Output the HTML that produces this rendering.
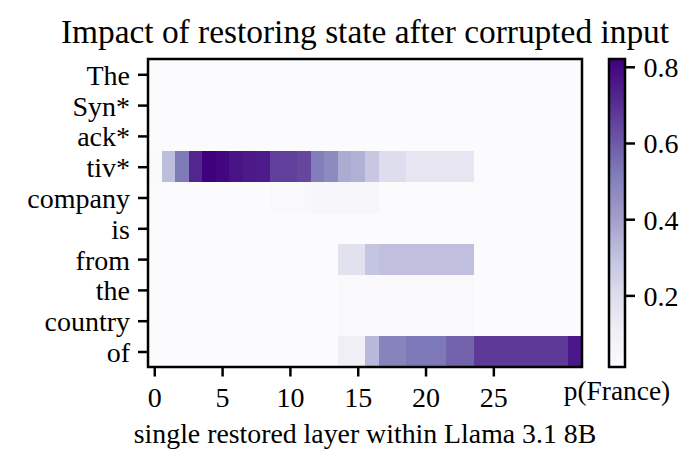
<!DOCTYPE html>
<html><head><meta charset="utf-8"><style>
html,body{margin:0;padding:0;background:#fff;width:699px;height:470px;overflow:hidden}
svg{display:block}
.t{font-family:"Liberation Serif",serif;font-size:28px;fill:#000}
.ti{font-family:"Liberation Serif",serif;font-size:33.4px;fill:#000}
.tp{font-family:"Liberation Serif",serif;font-size:27.4px;fill:#000}
</style></head><body>
<svg width="699" height="470" viewBox="0 0 699 470" shape-rendering="crispEdges"><rect width="699" height="470" fill="#fff"/><rect x="148.00" y="59.00" width="13.86" height="31.10" fill="#fbfafc"/><rect x="161.56" y="59.00" width="13.86" height="31.10" fill="#fbfafc"/><rect x="175.12" y="59.00" width="13.86" height="31.10" fill="#fbfafc"/><rect x="188.69" y="59.00" width="13.86" height="31.10" fill="#fbfafc"/><rect x="202.25" y="59.00" width="13.86" height="31.10" fill="#fbfafc"/><rect x="215.81" y="59.00" width="13.86" height="31.10" fill="#fbfafc"/><rect x="229.38" y="59.00" width="13.86" height="31.10" fill="#fbfafc"/><rect x="242.94" y="59.00" width="13.86" height="31.10" fill="#fbfafc"/><rect x="256.50" y="59.00" width="13.86" height="31.10" fill="#fbfafc"/><rect x="270.06" y="59.00" width="13.86" height="31.10" fill="#fbfafc"/><rect x="283.62" y="59.00" width="13.86" height="31.10" fill="#fbfafc"/><rect x="297.19" y="59.00" width="13.86" height="31.10" fill="#fbfafc"/><rect x="310.75" y="59.00" width="13.86" height="31.10" fill="#fbfafc"/><rect x="324.31" y="59.00" width="13.86" height="31.10" fill="#fbfafc"/><rect x="337.88" y="59.00" width="13.86" height="31.10" fill="#fbfafc"/><rect x="351.44" y="59.00" width="13.86" height="31.10" fill="#fbfafc"/><rect x="365.00" y="59.00" width="13.86" height="31.10" fill="#fbfafc"/><rect x="378.56" y="59.00" width="13.86" height="31.10" fill="#fbfafc"/><rect x="392.12" y="59.00" width="13.86" height="31.10" fill="#fbfafc"/><rect x="405.69" y="59.00" width="13.86" height="31.10" fill="#fbfafc"/><rect x="419.25" y="59.00" width="13.86" height="31.10" fill="#fbfafc"/><rect x="432.81" y="59.00" width="13.86" height="31.10" fill="#fbfafc"/><rect x="446.38" y="59.00" width="13.86" height="31.10" fill="#fbfafc"/><rect x="459.94" y="59.00" width="13.86" height="31.10" fill="#fbfafc"/><rect x="473.50" y="59.00" width="13.86" height="31.10" fill="#fbfafc"/><rect x="487.06" y="59.00" width="13.86" height="31.10" fill="#fbfafc"/><rect x="500.62" y="59.00" width="13.86" height="31.10" fill="#fbfafc"/><rect x="514.19" y="59.00" width="13.86" height="31.10" fill="#fbfafc"/><rect x="527.75" y="59.00" width="13.86" height="31.10" fill="#fbfafc"/><rect x="541.31" y="59.00" width="13.86" height="31.10" fill="#fbfafc"/><rect x="554.88" y="59.00" width="13.86" height="31.10" fill="#fbfafc"/><rect x="568.44" y="59.00" width="13.86" height="31.10" fill="#fbfafc"/><rect x="148.00" y="89.80" width="13.86" height="31.10" fill="#fbfafc"/><rect x="161.56" y="89.80" width="13.86" height="31.10" fill="#fbfafc"/><rect x="175.12" y="89.80" width="13.86" height="31.10" fill="#fbfafc"/><rect x="188.69" y="89.80" width="13.86" height="31.10" fill="#fbfafc"/><rect x="202.25" y="89.80" width="13.86" height="31.10" fill="#fbfafc"/><rect x="215.81" y="89.80" width="13.86" height="31.10" fill="#fbfafc"/><rect x="229.38" y="89.80" width="13.86" height="31.10" fill="#fbfafc"/><rect x="242.94" y="89.80" width="13.86" height="31.10" fill="#fbfafc"/><rect x="256.50" y="89.80" width="13.86" height="31.10" fill="#fbfafc"/><rect x="270.06" y="89.80" width="13.86" height="31.10" fill="#fbfafc"/><rect x="283.62" y="89.80" width="13.86" height="31.10" fill="#fbfafc"/><rect x="297.19" y="89.80" width="13.86" height="31.10" fill="#fbfafc"/><rect x="310.75" y="89.80" width="13.86" height="31.10" fill="#fbfafc"/><rect x="324.31" y="89.80" width="13.86" height="31.10" fill="#fbfafc"/><rect x="337.88" y="89.80" width="13.86" height="31.10" fill="#fbfafc"/><rect x="351.44" y="89.80" width="13.86" height="31.10" fill="#fbfafc"/><rect x="365.00" y="89.80" width="13.86" height="31.10" fill="#fbfafc"/><rect x="378.56" y="89.80" width="13.86" height="31.10" fill="#fbfafc"/><rect x="392.12" y="89.80" width="13.86" height="31.10" fill="#fbfafc"/><rect x="405.69" y="89.80" width="13.86" height="31.10" fill="#fbfafc"/><rect x="419.25" y="89.80" width="13.86" height="31.10" fill="#fbfafc"/><rect x="432.81" y="89.80" width="13.86" height="31.10" fill="#fbfafc"/><rect x="446.38" y="89.80" width="13.86" height="31.10" fill="#fbfafc"/><rect x="459.94" y="89.80" width="13.86" height="31.10" fill="#fbfafc"/><rect x="473.50" y="89.80" width="13.86" height="31.10" fill="#fbfafc"/><rect x="487.06" y="89.80" width="13.86" height="31.10" fill="#fbfafc"/><rect x="500.62" y="89.80" width="13.86" height="31.10" fill="#fbfafc"/><rect x="514.19" y="89.80" width="13.86" height="31.10" fill="#fbfafc"/><rect x="527.75" y="89.80" width="13.86" height="31.10" fill="#fbfafc"/><rect x="541.31" y="89.80" width="13.86" height="31.10" fill="#fbfafc"/><rect x="554.88" y="89.80" width="13.86" height="31.10" fill="#fbfafc"/><rect x="568.44" y="89.80" width="13.86" height="31.10" fill="#fbfafc"/><rect x="148.00" y="120.60" width="13.86" height="31.10" fill="#fbfafc"/><rect x="161.56" y="120.60" width="13.86" height="31.10" fill="#fbfafc"/><rect x="175.12" y="120.60" width="13.86" height="31.10" fill="#fbfafc"/><rect x="188.69" y="120.60" width="13.86" height="31.10" fill="#fbfafc"/><rect x="202.25" y="120.60" width="13.86" height="31.10" fill="#fbfafc"/><rect x="215.81" y="120.60" width="13.86" height="31.10" fill="#fbfafc"/><rect x="229.38" y="120.60" width="13.86" height="31.10" fill="#fbfafc"/><rect x="242.94" y="120.60" width="13.86" height="31.10" fill="#fbfafc"/><rect x="256.50" y="120.60" width="13.86" height="31.10" fill="#fbfafc"/><rect x="270.06" y="120.60" width="13.86" height="31.10" fill="#fbfafc"/><rect x="283.62" y="120.60" width="13.86" height="31.10" fill="#fbfafc"/><rect x="297.19" y="120.60" width="13.86" height="31.10" fill="#fbfafc"/><rect x="310.75" y="120.60" width="13.86" height="31.10" fill="#fbfafc"/><rect x="324.31" y="120.60" width="13.86" height="31.10" fill="#fbfafc"/><rect x="337.88" y="120.60" width="13.86" height="31.10" fill="#fbfafc"/><rect x="351.44" y="120.60" width="13.86" height="31.10" fill="#fbfafc"/><rect x="365.00" y="120.60" width="13.86" height="31.10" fill="#fbfafc"/><rect x="378.56" y="120.60" width="13.86" height="31.10" fill="#fbfafc"/><rect x="392.12" y="120.60" width="13.86" height="31.10" fill="#fbfafc"/><rect x="405.69" y="120.60" width="13.86" height="31.10" fill="#fbfafc"/><rect x="419.25" y="120.60" width="13.86" height="31.10" fill="#fbfafc"/><rect x="432.81" y="120.60" width="13.86" height="31.10" fill="#fbfafc"/><rect x="446.38" y="120.60" width="13.86" height="31.10" fill="#fbfafc"/><rect x="459.94" y="120.60" width="13.86" height="31.10" fill="#fbfafc"/><rect x="473.50" y="120.60" width="13.86" height="31.10" fill="#fbfafc"/><rect x="487.06" y="120.60" width="13.86" height="31.10" fill="#fbfafc"/><rect x="500.62" y="120.60" width="13.86" height="31.10" fill="#fbfafc"/><rect x="514.19" y="120.60" width="13.86" height="31.10" fill="#fbfafc"/><rect x="527.75" y="120.60" width="13.86" height="31.10" fill="#fbfafc"/><rect x="541.31" y="120.60" width="13.86" height="31.10" fill="#fbfafc"/><rect x="554.88" y="120.60" width="13.86" height="31.10" fill="#fbfafc"/><rect x="568.44" y="120.60" width="13.86" height="31.10" fill="#fbfafc"/><rect x="148.00" y="151.40" width="13.86" height="31.10" fill="#faf9fc"/><rect x="161.56" y="151.40" width="13.86" height="31.10" fill="#bdbedd"/><rect x="175.12" y="151.40" width="13.86" height="31.10" fill="#7f7bb9"/><rect x="188.69" y="151.40" width="13.86" height="31.10" fill="#53258e"/><rect x="202.25" y="151.40" width="13.86" height="31.10" fill="#3f007d"/><rect x="215.81" y="151.40" width="13.86" height="31.10" fill="#420680"/><rect x="229.38" y="151.40" width="13.86" height="31.10" fill="#491386"/><rect x="242.94" y="151.40" width="13.86" height="31.10" fill="#4c1989"/><rect x="256.50" y="151.40" width="13.86" height="31.10" fill="#4e1c8a"/><rect x="270.06" y="151.40" width="13.86" height="31.10" fill="#61409b"/><rect x="283.62" y="151.40" width="13.86" height="31.10" fill="#61409b"/><rect x="297.19" y="151.40" width="13.86" height="31.10" fill="#65479e"/><rect x="310.75" y="151.40" width="13.86" height="31.10" fill="#817ebb"/><rect x="324.31" y="151.40" width="13.86" height="31.10" fill="#8d8ac0"/><rect x="337.88" y="151.40" width="13.86" height="31.10" fill="#acabd2"/><rect x="351.44" y="151.40" width="13.86" height="31.10" fill="#b1b0d5"/><rect x="365.00" y="151.40" width="13.86" height="31.10" fill="#c7c7e1"/><rect x="378.56" y="151.40" width="13.86" height="31.10" fill="#dddded"/><rect x="392.12" y="151.40" width="13.86" height="31.10" fill="#dddded"/><rect x="405.69" y="151.40" width="13.86" height="31.10" fill="#e6e5f1"/><rect x="419.25" y="151.40" width="13.86" height="31.10" fill="#e6e5f1"/><rect x="432.81" y="151.40" width="13.86" height="31.10" fill="#e6e5f1"/><rect x="446.38" y="151.40" width="13.86" height="31.10" fill="#e6e5f1"/><rect x="459.94" y="151.40" width="13.86" height="31.10" fill="#e6e5f1"/><rect x="473.50" y="151.40" width="13.86" height="31.10" fill="#fbfafc"/><rect x="487.06" y="151.40" width="13.86" height="31.10" fill="#fbfafc"/><rect x="500.62" y="151.40" width="13.86" height="31.10" fill="#fbfafc"/><rect x="514.19" y="151.40" width="13.86" height="31.10" fill="#fbfafc"/><rect x="527.75" y="151.40" width="13.86" height="31.10" fill="#fbfafc"/><rect x="541.31" y="151.40" width="13.86" height="31.10" fill="#fbfafc"/><rect x="554.88" y="151.40" width="13.86" height="31.10" fill="#fbfafc"/><rect x="568.44" y="151.40" width="13.86" height="31.10" fill="#fbfafc"/><rect x="148.00" y="182.20" width="13.86" height="31.10" fill="#fbfafc"/><rect x="161.56" y="182.20" width="13.86" height="31.10" fill="#fbfafc"/><rect x="175.12" y="182.20" width="13.86" height="31.10" fill="#fbfafc"/><rect x="188.69" y="182.20" width="13.86" height="31.10" fill="#fbfafc"/><rect x="202.25" y="182.20" width="13.86" height="31.10" fill="#fbfafc"/><rect x="215.81" y="182.20" width="13.86" height="31.10" fill="#fbfafc"/><rect x="229.38" y="182.20" width="13.86" height="31.10" fill="#fbfafc"/><rect x="242.94" y="182.20" width="13.86" height="31.10" fill="#fbfafc"/><rect x="256.50" y="182.20" width="13.86" height="31.10" fill="#fbfafc"/><rect x="270.06" y="182.20" width="13.86" height="31.10" fill="#f9f8fb"/><rect x="283.62" y="182.20" width="13.86" height="31.10" fill="#f9f8fb"/><rect x="297.19" y="182.20" width="13.86" height="31.10" fill="#f9f8fb"/><rect x="310.75" y="182.20" width="13.86" height="31.10" fill="#f7f6fa"/><rect x="324.31" y="182.20" width="13.86" height="31.10" fill="#f7f6fa"/><rect x="337.88" y="182.20" width="13.86" height="31.10" fill="#f7f6fa"/><rect x="351.44" y="182.20" width="13.86" height="31.10" fill="#f7f6fa"/><rect x="365.00" y="182.20" width="13.86" height="31.10" fill="#f7f6fa"/><rect x="378.56" y="182.20" width="13.86" height="31.10" fill="#fbfafc"/><rect x="392.12" y="182.20" width="13.86" height="31.10" fill="#fbfafc"/><rect x="405.69" y="182.20" width="13.86" height="31.10" fill="#fbfafc"/><rect x="419.25" y="182.20" width="13.86" height="31.10" fill="#fbfafc"/><rect x="432.81" y="182.20" width="13.86" height="31.10" fill="#fbfafc"/><rect x="446.38" y="182.20" width="13.86" height="31.10" fill="#fbfafc"/><rect x="459.94" y="182.20" width="13.86" height="31.10" fill="#fbfafc"/><rect x="473.50" y="182.20" width="13.86" height="31.10" fill="#fbfafc"/><rect x="487.06" y="182.20" width="13.86" height="31.10" fill="#fbfafc"/><rect x="500.62" y="182.20" width="13.86" height="31.10" fill="#fbfafc"/><rect x="514.19" y="182.20" width="13.86" height="31.10" fill="#fbfafc"/><rect x="527.75" y="182.20" width="13.86" height="31.10" fill="#fbfafc"/><rect x="541.31" y="182.20" width="13.86" height="31.10" fill="#fbfafc"/><rect x="554.88" y="182.20" width="13.86" height="31.10" fill="#fbfafc"/><rect x="568.44" y="182.20" width="13.86" height="31.10" fill="#fbfafc"/><rect x="148.00" y="213.00" width="13.86" height="31.10" fill="#fbfafc"/><rect x="161.56" y="213.00" width="13.86" height="31.10" fill="#fbfafc"/><rect x="175.12" y="213.00" width="13.86" height="31.10" fill="#fbfafc"/><rect x="188.69" y="213.00" width="13.86" height="31.10" fill="#fbfafc"/><rect x="202.25" y="213.00" width="13.86" height="31.10" fill="#fbfafc"/><rect x="215.81" y="213.00" width="13.86" height="31.10" fill="#fbfafc"/><rect x="229.38" y="213.00" width="13.86" height="31.10" fill="#fbfafc"/><rect x="242.94" y="213.00" width="13.86" height="31.10" fill="#fbfafc"/><rect x="256.50" y="213.00" width="13.86" height="31.10" fill="#fbfafc"/><rect x="270.06" y="213.00" width="13.86" height="31.10" fill="#fbfafc"/><rect x="283.62" y="213.00" width="13.86" height="31.10" fill="#fbfafc"/><rect x="297.19" y="213.00" width="13.86" height="31.10" fill="#fbfafc"/><rect x="310.75" y="213.00" width="13.86" height="31.10" fill="#fbfafc"/><rect x="324.31" y="213.00" width="13.86" height="31.10" fill="#fbfafc"/><rect x="337.88" y="213.00" width="13.86" height="31.10" fill="#fbfafc"/><rect x="351.44" y="213.00" width="13.86" height="31.10" fill="#fbfafc"/><rect x="365.00" y="213.00" width="13.86" height="31.10" fill="#fbfafc"/><rect x="378.56" y="213.00" width="13.86" height="31.10" fill="#fbfafc"/><rect x="392.12" y="213.00" width="13.86" height="31.10" fill="#fbfafc"/><rect x="405.69" y="213.00" width="13.86" height="31.10" fill="#fbfafc"/><rect x="419.25" y="213.00" width="13.86" height="31.10" fill="#fbfafc"/><rect x="432.81" y="213.00" width="13.86" height="31.10" fill="#fbfafc"/><rect x="446.38" y="213.00" width="13.86" height="31.10" fill="#fbfafc"/><rect x="459.94" y="213.00" width="13.86" height="31.10" fill="#fbfafc"/><rect x="473.50" y="213.00" width="13.86" height="31.10" fill="#fbfafc"/><rect x="487.06" y="213.00" width="13.86" height="31.10" fill="#fbfafc"/><rect x="500.62" y="213.00" width="13.86" height="31.10" fill="#fbfafc"/><rect x="514.19" y="213.00" width="13.86" height="31.10" fill="#fbfafc"/><rect x="527.75" y="213.00" width="13.86" height="31.10" fill="#fbfafc"/><rect x="541.31" y="213.00" width="13.86" height="31.10" fill="#fbfafc"/><rect x="554.88" y="213.00" width="13.86" height="31.10" fill="#fbfafc"/><rect x="568.44" y="213.00" width="13.86" height="31.10" fill="#fbfafc"/><rect x="148.00" y="243.80" width="13.86" height="31.10" fill="#fbfafc"/><rect x="161.56" y="243.80" width="13.86" height="31.10" fill="#fbfafc"/><rect x="175.12" y="243.80" width="13.86" height="31.10" fill="#fbfafc"/><rect x="188.69" y="243.80" width="13.86" height="31.10" fill="#fbfafc"/><rect x="202.25" y="243.80" width="13.86" height="31.10" fill="#fbfafc"/><rect x="215.81" y="243.80" width="13.86" height="31.10" fill="#fbfafc"/><rect x="229.38" y="243.80" width="13.86" height="31.10" fill="#fbfafc"/><rect x="242.94" y="243.80" width="13.86" height="31.10" fill="#fbfafc"/><rect x="256.50" y="243.80" width="13.86" height="31.10" fill="#fbfafc"/><rect x="270.06" y="243.80" width="13.86" height="31.10" fill="#fbfafc"/><rect x="283.62" y="243.80" width="13.86" height="31.10" fill="#fbfafc"/><rect x="297.19" y="243.80" width="13.86" height="31.10" fill="#fbfafc"/><rect x="310.75" y="243.80" width="13.86" height="31.10" fill="#fbfafc"/><rect x="324.31" y="243.80" width="13.86" height="31.10" fill="#fbfafc"/><rect x="337.88" y="243.80" width="13.86" height="31.10" fill="#e2e2ef"/><rect x="351.44" y="243.80" width="13.86" height="31.10" fill="#e2e2ef"/><rect x="365.00" y="243.80" width="13.86" height="31.10" fill="#c4c5e0"/><rect x="378.56" y="243.80" width="13.86" height="31.10" fill="#c0c0de"/><rect x="392.12" y="243.80" width="13.86" height="31.10" fill="#c0c0de"/><rect x="405.69" y="243.80" width="13.86" height="31.10" fill="#c0c0de"/><rect x="419.25" y="243.80" width="13.86" height="31.10" fill="#c0c0de"/><rect x="432.81" y="243.80" width="13.86" height="31.10" fill="#c0c0de"/><rect x="446.38" y="243.80" width="13.86" height="31.10" fill="#c0c0de"/><rect x="459.94" y="243.80" width="13.86" height="31.10" fill="#c0c0de"/><rect x="473.50" y="243.80" width="13.86" height="31.10" fill="#fbfafc"/><rect x="487.06" y="243.80" width="13.86" height="31.10" fill="#fbfafc"/><rect x="500.62" y="243.80" width="13.86" height="31.10" fill="#fbfafc"/><rect x="514.19" y="243.80" width="13.86" height="31.10" fill="#fbfafc"/><rect x="527.75" y="243.80" width="13.86" height="31.10" fill="#fbfafc"/><rect x="541.31" y="243.80" width="13.86" height="31.10" fill="#fbfafc"/><rect x="554.88" y="243.80" width="13.86" height="31.10" fill="#fbfafc"/><rect x="568.44" y="243.80" width="13.86" height="31.10" fill="#fbfafc"/><rect x="148.00" y="274.60" width="13.86" height="31.10" fill="#fbfafc"/><rect x="161.56" y="274.60" width="13.86" height="31.10" fill="#fbfafc"/><rect x="175.12" y="274.60" width="13.86" height="31.10" fill="#fbfafc"/><rect x="188.69" y="274.60" width="13.86" height="31.10" fill="#fbfafc"/><rect x="202.25" y="274.60" width="13.86" height="31.10" fill="#fbfafc"/><rect x="215.81" y="274.60" width="13.86" height="31.10" fill="#fbfafc"/><rect x="229.38" y="274.60" width="13.86" height="31.10" fill="#fbfafc"/><rect x="242.94" y="274.60" width="13.86" height="31.10" fill="#fbfafc"/><rect x="256.50" y="274.60" width="13.86" height="31.10" fill="#fbfafc"/><rect x="270.06" y="274.60" width="13.86" height="31.10" fill="#fbfafc"/><rect x="283.62" y="274.60" width="13.86" height="31.10" fill="#fbfafc"/><rect x="297.19" y="274.60" width="13.86" height="31.10" fill="#fbfafc"/><rect x="310.75" y="274.60" width="13.86" height="31.10" fill="#fbfafc"/><rect x="324.31" y="274.60" width="13.86" height="31.10" fill="#fbfafc"/><rect x="337.88" y="274.60" width="13.86" height="31.10" fill="#f9f8fb"/><rect x="351.44" y="274.60" width="13.86" height="31.10" fill="#f9f8fb"/><rect x="365.00" y="274.60" width="13.86" height="31.10" fill="#f9f8fb"/><rect x="378.56" y="274.60" width="13.86" height="31.10" fill="#f9f8fb"/><rect x="392.12" y="274.60" width="13.86" height="31.10" fill="#f9f8fb"/><rect x="405.69" y="274.60" width="13.86" height="31.10" fill="#f9f8fb"/><rect x="419.25" y="274.60" width="13.86" height="31.10" fill="#f9f8fb"/><rect x="432.81" y="274.60" width="13.86" height="31.10" fill="#f9f8fb"/><rect x="446.38" y="274.60" width="13.86" height="31.10" fill="#f9f8fb"/><rect x="459.94" y="274.60" width="13.86" height="31.10" fill="#f9f8fb"/><rect x="473.50" y="274.60" width="13.86" height="31.10" fill="#fbfafc"/><rect x="487.06" y="274.60" width="13.86" height="31.10" fill="#fbfafc"/><rect x="500.62" y="274.60" width="13.86" height="31.10" fill="#fbfafc"/><rect x="514.19" y="274.60" width="13.86" height="31.10" fill="#fbfafc"/><rect x="527.75" y="274.60" width="13.86" height="31.10" fill="#fbfafc"/><rect x="541.31" y="274.60" width="13.86" height="31.10" fill="#fbfafc"/><rect x="554.88" y="274.60" width="13.86" height="31.10" fill="#fbfafc"/><rect x="568.44" y="274.60" width="13.86" height="31.10" fill="#fbfafc"/><rect x="148.00" y="305.40" width="13.86" height="31.10" fill="#fbfafc"/><rect x="161.56" y="305.40" width="13.86" height="31.10" fill="#fbfafc"/><rect x="175.12" y="305.40" width="13.86" height="31.10" fill="#fbfafc"/><rect x="188.69" y="305.40" width="13.86" height="31.10" fill="#fbfafc"/><rect x="202.25" y="305.40" width="13.86" height="31.10" fill="#fbfafc"/><rect x="215.81" y="305.40" width="13.86" height="31.10" fill="#fbfafc"/><rect x="229.38" y="305.40" width="13.86" height="31.10" fill="#fbfafc"/><rect x="242.94" y="305.40" width="13.86" height="31.10" fill="#fbfafc"/><rect x="256.50" y="305.40" width="13.86" height="31.10" fill="#fbfafc"/><rect x="270.06" y="305.40" width="13.86" height="31.10" fill="#fbfafc"/><rect x="283.62" y="305.40" width="13.86" height="31.10" fill="#fbfafc"/><rect x="297.19" y="305.40" width="13.86" height="31.10" fill="#fbfafc"/><rect x="310.75" y="305.40" width="13.86" height="31.10" fill="#fbfafc"/><rect x="324.31" y="305.40" width="13.86" height="31.10" fill="#fbfafc"/><rect x="337.88" y="305.40" width="13.86" height="31.10" fill="#f9f8fb"/><rect x="351.44" y="305.40" width="13.86" height="31.10" fill="#f9f8fb"/><rect x="365.00" y="305.40" width="13.86" height="31.10" fill="#f9f8fb"/><rect x="378.56" y="305.40" width="13.86" height="31.10" fill="#f9f8fb"/><rect x="392.12" y="305.40" width="13.86" height="31.10" fill="#f9f8fb"/><rect x="405.69" y="305.40" width="13.86" height="31.10" fill="#f9f8fb"/><rect x="419.25" y="305.40" width="13.86" height="31.10" fill="#f9f8fb"/><rect x="432.81" y="305.40" width="13.86" height="31.10" fill="#f9f8fb"/><rect x="446.38" y="305.40" width="13.86" height="31.10" fill="#f9f8fb"/><rect x="459.94" y="305.40" width="13.86" height="31.10" fill="#f9f8fb"/><rect x="473.50" y="305.40" width="13.86" height="31.10" fill="#fbfafc"/><rect x="487.06" y="305.40" width="13.86" height="31.10" fill="#fbfafc"/><rect x="500.62" y="305.40" width="13.86" height="31.10" fill="#fbfafc"/><rect x="514.19" y="305.40" width="13.86" height="31.10" fill="#fbfafc"/><rect x="527.75" y="305.40" width="13.86" height="31.10" fill="#fbfafc"/><rect x="541.31" y="305.40" width="13.86" height="31.10" fill="#fbfafc"/><rect x="554.88" y="305.40" width="13.86" height="31.10" fill="#fbfafc"/><rect x="568.44" y="305.40" width="13.86" height="31.10" fill="#fbfafc"/><rect x="148.00" y="336.20" width="13.86" height="31.10" fill="#fbfafc"/><rect x="161.56" y="336.20" width="13.86" height="31.10" fill="#fbfafc"/><rect x="175.12" y="336.20" width="13.86" height="31.10" fill="#fbfafc"/><rect x="188.69" y="336.20" width="13.86" height="31.10" fill="#fbfafc"/><rect x="202.25" y="336.20" width="13.86" height="31.10" fill="#fbfafc"/><rect x="215.81" y="336.20" width="13.86" height="31.10" fill="#fbfafc"/><rect x="229.38" y="336.20" width="13.86" height="31.10" fill="#fbfafc"/><rect x="242.94" y="336.20" width="13.86" height="31.10" fill="#fbfafc"/><rect x="256.50" y="336.20" width="13.86" height="31.10" fill="#fbfafc"/><rect x="270.06" y="336.20" width="13.86" height="31.10" fill="#fbfafc"/><rect x="283.62" y="336.20" width="13.86" height="31.10" fill="#fbfafc"/><rect x="297.19" y="336.20" width="13.86" height="31.10" fill="#fbfafc"/><rect x="310.75" y="336.20" width="13.86" height="31.10" fill="#fbfafc"/><rect x="324.31" y="336.20" width="13.86" height="31.10" fill="#fbfafc"/><rect x="337.88" y="336.20" width="13.86" height="31.10" fill="#f1eff6"/><rect x="351.44" y="336.20" width="13.86" height="31.10" fill="#f1eff6"/><rect x="365.00" y="336.20" width="13.86" height="31.10" fill="#b8b9da"/><rect x="378.56" y="336.20" width="13.86" height="31.10" fill="#8683bd"/><rect x="392.12" y="336.20" width="13.86" height="31.10" fill="#8683bd"/><rect x="405.69" y="336.20" width="13.86" height="31.10" fill="#7d78b7"/><rect x="419.25" y="336.20" width="13.86" height="31.10" fill="#7d78b7"/><rect x="432.81" y="336.20" width="13.86" height="31.10" fill="#7d78b7"/><rect x="446.38" y="336.20" width="13.86" height="31.10" fill="#7363ac"/><rect x="459.94" y="336.20" width="13.86" height="31.10" fill="#7363ac"/><rect x="473.50" y="336.20" width="13.86" height="31.10" fill="#5e3998"/><rect x="487.06" y="336.20" width="13.86" height="31.10" fill="#5e3998"/><rect x="500.62" y="336.20" width="13.86" height="31.10" fill="#5e3998"/><rect x="514.19" y="336.20" width="13.86" height="31.10" fill="#5e3998"/><rect x="527.75" y="336.20" width="13.86" height="31.10" fill="#5e3998"/><rect x="541.31" y="336.20" width="13.86" height="31.10" fill="#5e3998"/><rect x="554.88" y="336.20" width="13.86" height="31.10" fill="#5e3998"/><rect x="568.44" y="336.20" width="13.86" height="31.10" fill="#4b1687"/><rect x="148.0" y="59.0" width="434.0" height="308.0" fill="none" stroke="#000" stroke-width="2.5" shape-rendering="geometricPrecision"/><line x1="138" y1="74.80" x2="148.0" y2="74.80" stroke="#000" stroke-width="2.5" shape-rendering="geometricPrecision"/><text x="130" y="84.80" text-anchor="end" class="t">The</text><line x1="138" y1="105.60" x2="148.0" y2="105.60" stroke="#000" stroke-width="2.5" shape-rendering="geometricPrecision"/><text x="130" y="115.60" text-anchor="end" class="t">Syn*</text><line x1="138" y1="136.40" x2="148.0" y2="136.40" stroke="#000" stroke-width="2.5" shape-rendering="geometricPrecision"/><text x="130" y="146.40" text-anchor="end" class="t">ack*</text><line x1="138" y1="167.20" x2="148.0" y2="167.20" stroke="#000" stroke-width="2.5" shape-rendering="geometricPrecision"/><text x="130" y="177.20" text-anchor="end" class="t">tiv*</text><line x1="138" y1="198.00" x2="148.0" y2="198.00" stroke="#000" stroke-width="2.5" shape-rendering="geometricPrecision"/><text x="130" y="208.00" text-anchor="end" class="t">company</text><line x1="138" y1="228.80" x2="148.0" y2="228.80" stroke="#000" stroke-width="2.5" shape-rendering="geometricPrecision"/><text x="130" y="238.80" text-anchor="end" class="t">is</text><line x1="138" y1="259.60" x2="148.0" y2="259.60" stroke="#000" stroke-width="2.5" shape-rendering="geometricPrecision"/><text x="130" y="269.60" text-anchor="end" class="t">from</text><line x1="138" y1="290.40" x2="148.0" y2="290.40" stroke="#000" stroke-width="2.5" shape-rendering="geometricPrecision"/><text x="130" y="300.40" text-anchor="end" class="t">the</text><line x1="138" y1="321.20" x2="148.0" y2="321.20" stroke="#000" stroke-width="2.5" shape-rendering="geometricPrecision"/><text x="130" y="331.20" text-anchor="end" class="t">country</text><line x1="138" y1="352.00" x2="148.0" y2="352.00" stroke="#000" stroke-width="2.5" shape-rendering="geometricPrecision"/><text x="130" y="362.00" text-anchor="end" class="t">of</text><line x1="154.78" y1="367.0" x2="154.78" y2="376.5" stroke="#000" stroke-width="2.5" shape-rendering="geometricPrecision"/><text x="154.78" y="406.5" text-anchor="middle" class="t">0</text><line x1="222.59" y1="367.0" x2="222.59" y2="376.5" stroke="#000" stroke-width="2.5" shape-rendering="geometricPrecision"/><text x="222.59" y="406.5" text-anchor="middle" class="t">5</text><line x1="290.41" y1="367.0" x2="290.41" y2="376.5" stroke="#000" stroke-width="2.5" shape-rendering="geometricPrecision"/><text x="290.41" y="406.5" text-anchor="middle" class="t">10</text><line x1="358.22" y1="367.0" x2="358.22" y2="376.5" stroke="#000" stroke-width="2.5" shape-rendering="geometricPrecision"/><text x="358.22" y="406.5" text-anchor="middle" class="t">15</text><line x1="426.03" y1="367.0" x2="426.03" y2="376.5" stroke="#000" stroke-width="2.5" shape-rendering="geometricPrecision"/><text x="426.03" y="406.5" text-anchor="middle" class="t">20</text><line x1="493.84" y1="367.0" x2="493.84" y2="376.5" stroke="#000" stroke-width="2.5" shape-rendering="geometricPrecision"/><text x="493.84" y="406.5" text-anchor="middle" class="t">25</text><text x="365.00" y="443.3" text-anchor="middle" class="t" style="font-size:27.8px">single restored layer within Llama 3.1 8B</text><text x="365" y="42.6" text-anchor="middle" class="ti">Impact of restoring state after corrupted input</text><defs><linearGradient id="g" x1="0" y1="0" x2="0" y2="1"><stop offset="0.000" stop-color="#3f007d"/><stop offset="0.025" stop-color="#430881"/><stop offset="0.050" stop-color="#471084"/><stop offset="0.075" stop-color="#4c1788"/><stop offset="0.100" stop-color="#501f8b"/><stop offset="0.125" stop-color="#54278f"/><stop offset="0.150" stop-color="#582f93"/><stop offset="0.175" stop-color="#5d3897"/><stop offset="0.200" stop-color="#61409b"/><stop offset="0.225" stop-color="#66499f"/><stop offset="0.250" stop-color="#6a51a3"/><stop offset="0.275" stop-color="#6e5aa8"/><stop offset="0.300" stop-color="#7363ac"/><stop offset="0.325" stop-color="#776bb1"/><stop offset="0.350" stop-color="#7c74b5"/><stop offset="0.375" stop-color="#807dba"/><stop offset="0.400" stop-color="#8683bd"/><stop offset="0.425" stop-color="#8c89c0"/><stop offset="0.450" stop-color="#928ec2"/><stop offset="0.475" stop-color="#9894c5"/><stop offset="0.500" stop-color="#9e9ac8"/><stop offset="0.525" stop-color="#a4a1cc"/><stop offset="0.550" stop-color="#aaa8d0"/><stop offset="0.575" stop-color="#b0afd4"/><stop offset="0.600" stop-color="#b6b6d8"/><stop offset="0.625" stop-color="#bcbddc"/><stop offset="0.650" stop-color="#c2c3df"/><stop offset="0.675" stop-color="#c8c9e2"/><stop offset="0.700" stop-color="#cecee5"/><stop offset="0.725" stop-color="#d4d4e8"/><stop offset="0.750" stop-color="#dadaeb"/><stop offset="0.775" stop-color="#dedeed"/><stop offset="0.800" stop-color="#e2e2ef"/><stop offset="0.825" stop-color="#e7e5f1"/><stop offset="0.850" stop-color="#ebe9f3"/><stop offset="0.875" stop-color="#efedf5"/><stop offset="0.900" stop-color="#f2f0f7"/><stop offset="0.925" stop-color="#f4f3f8"/><stop offset="0.950" stop-color="#f7f5fa"/><stop offset="0.975" stop-color="#f9f8fb"/><stop offset="1.000" stop-color="#fcfbfd"/></linearGradient></defs><rect x="609.0" y="59.0" width="16.0" height="308.0" fill="url(#g)" stroke="#000" stroke-width="2.5" shape-rendering="geometricPrecision"/><line x1="625.0" y1="295.89" x2="635.0" y2="295.89" stroke="#000" stroke-width="2.5" shape-rendering="geometricPrecision"/><text x="643.5" y="305.89" class="t">0.2</text><line x1="625.0" y1="219.69" x2="635.0" y2="219.69" stroke="#000" stroke-width="2.5" shape-rendering="geometricPrecision"/><text x="643.5" y="229.69" class="t">0.4</text><line x1="625.0" y1="143.49" x2="635.0" y2="143.49" stroke="#000" stroke-width="2.5" shape-rendering="geometricPrecision"/><text x="643.5" y="153.49" class="t">0.6</text><line x1="625.0" y1="67.29" x2="635.0" y2="67.29" stroke="#000" stroke-width="2.5" shape-rendering="geometricPrecision"/><text x="643.5" y="77.29" class="t">0.8</text><text x="617" y="399.5" text-anchor="middle" class="tp">p(France)</text></svg>
</body></html>
